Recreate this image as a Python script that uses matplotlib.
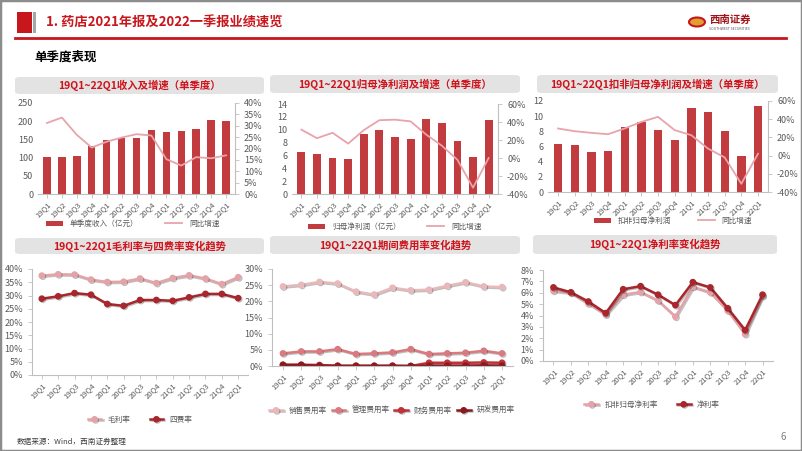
import matplotlib.pyplot as plt
import matplotlib.patheffects as pe
from matplotlib.patches import FancyBboxPatch, Rectangle, Circle
from matplotlib.lines import Line2D
from matplotlib.ticker import FuncFormatter, MultipleLocator

plt.rcParams['font.family'] = ['Noto Sans CJK SC', 'DejaVu Sans']

W, H = 802, 451

quarters = ['19Q1', '19Q2', '19Q3', '19Q4', '20Q1', '20Q2', '20Q3', '20Q4',
            '21Q1', '21Q2', '21Q3', '21Q4', '22Q1']

# top row: bars + yoy growth
revenue = [102, 103, 105, 131, 148, 155, 153, 176, 170, 172, 179, 204, 200]
revenue_yoy = [31.2, 33.6, 26.0, 20.4, 23.0, 24.8, 26.3, 25.7, 15.3, 12.5, 16.2, 15.7, 17.0]

net_profit = [6.6, 6.2, 5.6, 5.5, 9.3, 10.0, 8.9, 8.6, 11.6, 11.1, 8.2, 5.7, 11.5]
net_profit_yoy = [31.5, 22.0, 28.0, 16.0, 31.0, 42.0, 42.6, 40.7, 26.0, 13.7, -2.0, -33.0, 0.0]

deducted_profit = [6.3, 6.2, 5.3, 5.4, 8.6, 9.2, 8.2, 6.9, 11.1, 10.5, 8.0, 4.8, 11.3]
deducted_profit_yoy = [29.8, 26.8, 25.0, 23.5, 29.8, 37.0, 42.6, 28.0, 22.4, 7.7, -2.0, -31.0, 2.0]

# bottom row: ratios (%)
gross_margin = [37.5, 38.0, 37.9, 36.0, 35.1, 35.2, 36.4, 34.7, 36.6, 37.6, 36.4, 34.3, 36.9]
four_expense = [28.8, 29.7, 30.9, 30.3, 26.8, 26.1, 28.3, 28.3, 28.0, 29.3, 30.6, 30.6, 29.0]

selling_rate = [24.6, 25.1, 26.0, 25.5, 23.0, 22.1, 24.2, 23.4, 23.6, 24.8, 25.9, 24.6, 24.4]
admin_rate = [3.9, 4.5, 4.5, 5.2, 3.7, 3.9, 4.2, 5.2, 3.7, 3.9, 4.1, 4.7, 3.9]
finance_rate = [0.4, 0.4, 0.3, 0.1, 0.1, 0.1, 0.1, 0.0, 1.0, 1.0, 1.0, 1.1, 1.0]
rd_rate = [0.3, 0.3, 0.1, 0.0, 0.0, 0.0, 0.0, 0.0, 0.1, 0.1, 0.1, 0.2, 0.1]

deducted_margin = [6.17, 5.99, 5.05, 4.08, 5.83, 6.07, 5.32, 3.89, 6.52, 6.04, 4.43, 2.36, 5.72]
net_margin = [6.47, 6.04, 5.23, 4.21, 6.31, 6.58, 5.83, 4.91, 6.93, 6.47, 4.64, 2.71, 5.83]

BAR = '#C23B3E'
PINK = '#E8A3AB'
GRAY = '#BFBFBF'
TXT = '#595959'

fig = plt.figure(figsize=(W / 100, H / 100), dpi=100)


def box(x0, y0, x1, y1):
    return [x0 / W, 1 - y1 / H, (x1 - x0) / W, (y1 - y0) / H]


def fx(x):
    return x / W


def fy(y):
    return 1 - y / H


# slide frame + header
fig.add_artist(Rectangle((0, 0), 1, 1, transform=fig.transFigure, fill=False,
                         edgecolor='#8C8C8C', lw=2.5))
fig.add_artist(Rectangle((fx(17), fy(33)), 15 / W, 21 / H, transform=fig.transFigure,
                         color='#C8161D', lw=0))
fig.add_artist(Rectangle((fx(33), fy(33)), 3 / W, 21 / H, transform=fig.transFigure,
                         color='#A6A6A6', lw=0))
fig.text(fx(46), fy(23), '1. 药店2021年报及2022一季报业绩速览', color='#C8161D',
         fontsize=9.5, fontweight='bold', va='center', ha='left')
fig.add_artist(Line2D([fx(15), fx(786)], [fy(38), fy(38)], transform=fig.transFigure,
                      color='#C8161D', lw=2))
fig.add_artist(Circle((fx(697), fy(22)), 8 / W, transform=fig.transFigure,
                      facecolor='#E0A030', edgecolor='#C8161D', lw=1.5))
fig.text(fx(709), fy(20), '西南证券', color='#A01418', fontsize=7.5, fontweight='bold',
         va='center', ha='left')
fig.text(fx(709), fy(29), 'SOUTHWEST SECURITIES', color='#555555', fontsize=2.5,
         va='center', ha='left')
fig.text(fx(34), fy(57), '单季度表现', color='black', fontsize=9, fontweight='bold',
         va='center', ha='left')
fig.text(fx(17), fy(442), '数据来源：Wind，西南证券整理', color='#404040', fontsize=5.5,
         style='italic', va='center', ha='left')
fig.text(fx(783), fy(437), '6', color='#7F7F7F', fontsize=7, va='center', ha='center')


def title_box(x0, y0, x1, y1, text):
    fig.add_artist(FancyBboxPatch((fx(x0), fy(y1)), (x1 - x0) / W, (y1 - y0) / H,
                                  boxstyle='round,pad=0,rounding_size=0.006',
                                  transform=fig.transFigure, facecolor='#E3E3E3',
                                  edgecolor='none'))
    fig.text(fx((x0 + x1) / 2), fy((y0 + y1) / 2), text, color='#D0121B', fontsize=7.5,
             fontweight='bold', ha='center', va='center')


pct0 = FuncFormatter(lambda v, p: f'{v:.0f}%')
x = list(range(len(quarters)))


def style_axis(ax):
    for s in ['top', 'right']:
        ax.spines[s].set_visible(False)
    ax.spines['left'].set_color(GRAY)
    ax.spines['bottom'].set_color(GRAY)
    ax.tick_params(colors=GRAY, labelcolor=TXT, labelsize=6.5, length=3, width=0.6)
    ax.tick_params(axis='x', pad=1.5)
    ax.set_xticks(x)
    ax.set_xticklabels(quarters, rotation=45, ha='right', rotation_mode='anchor', fontsize=5.5)
    ax.set_xlim(-0.6, len(quarters) - 0.4)


def bar_panel(rect, bars, yoy, ymax, ystep, rlim, rstep, bar_label, leg_xy, title, tbox):
    title_box(*tbox, title)
    ax = fig.add_axes(box(*rect))
    style_axis(ax)
    ax.bar(x, bars, width=0.5, color=BAR, label=bar_label)
    ax.set_ylim(0, ymax)
    ax.yaxis.set_major_locator(MultipleLocator(ystep))
    ax.spines['left'].set_visible(False)
    ax.tick_params(axis='y', length=0)
    ax2 = ax.twinx()
    ax2.plot(x, yoy, color=PINK, lw=1.3, label='同比增速')
    ax2.set_ylim(*rlim)
    ax2.yaxis.set_major_locator(MultipleLocator(rstep))
    ax2.yaxis.set_major_formatter(pct0)
    for s in ['top', 'left', 'bottom']:
        ax2.spines[s].set_visible(False)
    ax2.spines['right'].set_color(GRAY)
    ax2.tick_params(colors=GRAY, labelcolor=TXT, labelsize=6.5, length=3, width=0.6)
    h1, l1 = ax.get_legend_handles_labels()
    h2, l2 = ax2.get_legend_handles_labels()
    fig.legend(h1 + h2, l1 + l2, loc='center', bbox_to_anchor=(fx(leg_xy[0]), fy(leg_xy[1])),
               ncol=2, frameon=False, fontsize=5.5, labelcolor=TXT, handlelength=2.2,
               handleheight=0.6, columnspacing=3.5, handletextpad=0.9)


bar_panel((38, 103, 235, 194), revenue, revenue_yoy, 250, 50, (0, 40), 5,
          '单季度收入（亿元）', (133, 224), '19Q1~22Q1收入及增速（单季度）', (15, 77, 264, 94))
bar_panel((292, 104, 498, 194), net_profit, net_profit_yoy, 14, 2, (-40, 60), 20,
          '归母净利润（亿元）', (395, 227), '19Q1~22Q1归母净利润及增速（单季度）', (270, 75, 520, 93))
bar_panel((548, 101, 768, 192), deducted_profit, deducted_profit_yoy, 12, 2, (-40, 60), 20,
          '扣非归母净利润', (673, 221), '19Q1~22Q1扣非归母净利润及增速（单季度）', (537, 75, 778, 93))


def line_panel(rect, series, ymax, ystep, leg_xy, colspace, title, tbox):
    title_box(*tbox, title)
    ax = fig.add_axes(box(*rect))
    style_axis(ax)
    shadow = [pe.SimpleLineShadow(offset=(0.8, -0.8), alpha=0.25), pe.Normal()]
    for vals, color, label in series:
        ax.plot(x, vals, color=color, lw=1.8, marker='o', ms=3.8, label=label,
                path_effects=shadow)
    ax.set_ylim(0, ymax)
    ax.yaxis.set_major_locator(MultipleLocator(ystep))
    ax.yaxis.set_major_formatter(pct0)
    fig.legend(*ax.get_legend_handles_labels(), loc='center',
               bbox_to_anchor=(fx(leg_xy[0]), fy(leg_xy[1])), ncol=len(series),
               frameon=False, fontsize=5.5, labelcolor=TXT, handlelength=1.8,
               columnspacing=colspace, handletextpad=0.8)
    return ax


line_panel((32, 269, 248, 375),
           [(gross_margin, '#E3A3A8', '毛利率'), (four_expense, '#A8262C', '四费率')],
           40, 5, (140, 420), 2.5, '19Q1~22Q1毛利率与四费率变化趋势', (15, 238, 264, 254))
line_panel((272, 269, 513, 366),
           [(selling_rate, '#E8B8BB', '销售费用率'), (admin_rate, '#D97A80', '管理费用率'),
            (finance_rate, '#BE3238', '财务费用率'), (rd_rate, '#8A1A20', '研发费用率')],
           30, 5, (392, 411), 0.6, '19Q1~22Q1期间费用率变化趋势', (270, 236, 520, 254))
line_panel((543, 270, 773, 361),
           [(deducted_margin, '#E3A3A8', '扣非归母净利率'), (net_margin, '#A8262C', '净利率')],
           8, 1, (652, 405), 2.5, '19Q1~22Q1净利率变化趋势', (533, 235, 777, 254))

fig.savefig('out.png', dpi=100)
